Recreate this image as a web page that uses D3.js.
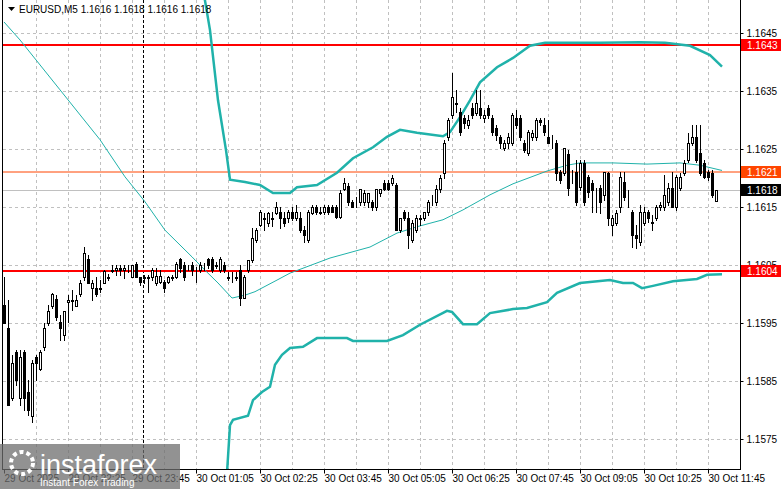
<!DOCTYPE html>
<html>
<head>
<meta charset="utf-8">
<script src="https://cdn.jsdelivr.net/npm/d3@7"></script>
<style>
  body { margin: 0; background: #fff; }
  svg text { font-family: "Liberation Sans", Arial, sans-serif; }
</style>
</head>
<body>
<svg id="chart" width="781" height="489"></svg>
<script>
// EURUSD M5 bars, 29 Oct 21:05 .. 30 Oct 11:55
var openP = [1.15981,1.15941,1.15821,1.15900,1.15821,1.15900,1.15831,1.15790,1.15891,1.15871,
1.15909,1.15950,1.15979,1.15991,1.15952,1.15929,1.15986,1.15990,1.15979,1.16000,
1.16029,1.16060,1.16010,1.16010,1.16009,1.16019,1.16029,1.16041,1.16041,1.16045,
1.16041,1.16045,1.16029,1.16052,1.16029,1.16029,1.16029,1.16029,1.16019,1.16021,
1.16021,1.16021,1.16028,1.16029,1.16060,1.16050,1.16045,1.16050,1.16040,1.16041,
1.16047,1.16060,1.16060,1.16050,1.16041,1.16050,1.16029,1.16028,1.16029,1.16041,
1.15993,1.16041,1.16059,1.16093,1.16119,1.16131,1.16122,1.16131,1.16140,1.16141,
1.16131,1.16131,1.16141,1.16131,1.16131,1.16110,1.16093,1.16140,1.16150,1.16141,
1.16141,1.16150,1.16150,1.16150,1.16133,1.16181,1.16186,1.16159,1.16159,1.16159,
1.16159,1.16159,1.16159,1.16150,1.16174,1.16191,1.16191,1.16191,1.16188,1.16110,
1.16141,1.16131,1.16093,1.16110,1.16131,1.16131,1.16141,1.16159,1.16159,1.16181,
1.16209,1.16271,1.16309,1.16329,1.16314,1.16303,1.16291,1.16321,1.16312,1.16321,
1.16303,1.16321,1.16303,1.16286,1.16271,1.16252,1.16260,1.16260,1.16303,1.16303,
1.16260,1.16243,1.16271,1.16271,1.16300,1.16291,1.16271,1.16271,1.16260,1.16210,
1.16209,1.16241,1.16202,1.16210,1.16185,1.16226,1.16202,1.16191,1.16171,1.16183,
1.16171,1.16209,1.16119,1.16122,1.16150,1.16193,1.16171,1.16141,1.16102,1.16090,
1.16122,1.16141,1.16124,1.16131,1.16150,1.16150,1.16159,1.16183,1.16150,1.16183,
1.16209,1.16231,1.16260,1.16271,1.16243,1.16226,1.16210,1.16209,1.16160];
var highP = [1.16029,1.15990,1.15895,1.15903,1.15903,1.15903,1.15852,1.15886,1.15895,1.15903,
1.15950,1.15981,1.16002,1.15998,1.15964,1.15971,1.15998,1.16007,1.15998,1.16024,
1.16081,1.16067,1.16024,1.16029,1.16024,1.16041,1.16034,1.16050,1.16050,1.16050,
1.16050,1.16050,1.16050,1.16055,1.16029,1.16033,1.16033,1.16045,1.16045,1.16041,
1.16024,1.16031,1.16033,1.16055,1.16062,1.16055,1.16050,1.16055,1.16047,1.16055,
1.16053,1.16062,1.16064,1.16055,1.16064,1.16055,1.16038,1.16038,1.16038,1.16050,
1.16033,1.16055,1.16114,1.16114,1.16145,1.16140,1.16141,1.16141,1.16159,1.16150,
1.16141,1.16145,1.16150,1.16153,1.16141,1.16117,1.16145,1.16153,1.16153,1.16150,
1.16153,1.16153,1.16153,1.16153,1.16179,1.16200,1.16191,1.16162,1.16167,1.16181,
1.16179,1.16174,1.16162,1.16181,1.16181,1.16197,1.16197,1.16205,1.16191,1.16131,
1.16145,1.16141,1.16128,1.16136,1.16136,1.16141,1.16162,1.16171,1.16188,1.16205,
1.16266,1.16304,1.16381,1.16352,1.16321,1.16309,1.16309,1.16329,1.16352,1.16352,
1.16317,1.16326,1.16309,1.16291,1.16274,1.16266,1.16278,1.16312,1.16317,1.16309,
1.16266,1.16283,1.16283,1.16303,1.16303,1.16303,1.16300,1.16274,1.16266,1.16214,
1.16252,1.16248,1.16214,1.16231,1.16231,1.16231,1.16205,1.16197,1.16183,1.16188,
1.16210,1.16210,1.16136,1.16145,1.16210,1.16210,1.16179,1.16145,1.16119,1.16153,
1.16150,1.16145,1.16136,1.16153,1.16159,1.16205,1.16191,1.16210,1.16205,1.16209,
1.16231,1.16278,1.16291,1.16291,1.16291,1.16231,1.16214,1.16214,1.16180];
var lowP = [1.15950,1.15809,1.15817,1.15843,1.15809,1.15800,1.15791,1.15779,1.15852,1.15869,
1.15903,1.15947,1.15976,1.15955,1.15921,1.15921,1.15952,1.15972,1.15979,1.15997,
1.16024,1.16019,1.15990,1.15997,1.16003,1.16019,1.16024,1.16038,1.16033,1.16033,
1.16028,1.16038,1.16029,1.16029,1.16016,1.16019,1.16003,1.16024,1.16016,1.16019,
1.16003,1.16019,1.16024,1.16028,1.16038,1.16024,1.16041,1.16033,1.16021,1.16038,
1.16041,1.16045,1.16038,1.16045,1.16038,1.16038,1.16024,1.16021,1.16024,1.15981,
1.15993,1.16038,1.16055,1.16090,1.16117,1.16110,1.16117,1.16117,1.16138,1.16114,
1.16117,1.16124,1.16128,1.16128,1.16107,1.16090,1.16090,1.16138,1.16138,1.16138,
1.16138,1.16138,1.16141,1.16131,1.16131,1.16179,1.16153,1.16150,1.16150,1.16153,
1.16153,1.16150,1.16145,1.16145,1.16169,1.16179,1.16179,1.16188,1.16110,1.16107,
1.16128,1.16079,1.16090,1.16107,1.16119,1.16128,1.16136,1.16153,1.16153,1.16176,
1.16200,1.16266,1.16304,1.16314,1.16274,1.16286,1.16286,1.16303,1.16309,1.16303,
1.16297,1.16303,1.16274,1.16266,1.16252,1.16248,1.16252,1.16257,1.16286,1.16266,
1.16245,1.16240,1.16266,1.16266,1.16291,1.16274,1.16260,1.16252,1.16197,1.16191,
1.16205,1.16171,1.16191,1.16153,1.16179,1.16153,1.16167,1.16141,1.16141,1.16140,
1.16162,1.16119,1.16102,1.16119,1.16141,1.16162,1.16150,1.16081,1.16079,1.16084,
1.16119,1.16124,1.16110,1.16128,1.16145,1.16145,1.16153,1.16150,1.16145,1.16179,
1.16205,1.16228,1.16257,1.16228,1.16205,1.16200,1.16197,1.16167,1.16160];
var closeP = [1.15950,1.15809,1.15881,1.15852,1.15891,1.15821,1.15800,1.15881,1.15881,1.15900,
1.15941,1.15971,1.16000,1.15960,1.15941,1.15971,1.15990,1.15988,1.15990,1.16019,
1.16071,1.16019,1.16019,1.16000,1.16010,1.16040,1.16028,1.16040,1.16045,1.16041,
1.16045,1.16044,1.16050,1.16029,1.16021,1.16028,1.16028,1.16041,1.16031,1.16031,
1.16010,1.16029,1.16029,1.16052,1.16045,1.16029,1.16044,1.16041,1.16039,1.16050,
1.16046,1.16050,1.16041,1.16049,1.16060,1.16041,1.16028,1.16027,1.16028,1.15993,
1.16029,1.16059,1.16097,1.16110,1.16141,1.16130,1.16140,1.16130,1.16150,1.16131,
1.16122,1.16141,1.16131,1.16141,1.16110,1.16102,1.16141,1.16150,1.16141,1.16140,
1.16150,1.16141,1.16141,1.16133,1.16174,1.16191,1.16159,1.16150,1.16158,1.16181,
1.16174,1.16174,1.16150,1.16181,1.16181,1.16181,1.16181,1.16200,1.16110,1.16131,
1.16131,1.16102,1.16122,1.16131,1.16130,1.16141,1.16159,1.16158,1.16181,1.16200,
1.16260,1.16300,1.16340,1.16328,1.16279,1.16295,1.16300,1.16309,1.16329,1.16309,
1.16309,1.16309,1.16279,1.16274,1.16260,1.16260,1.16271,1.16309,1.16291,1.16271,
1.16248,1.16279,1.16278,1.16300,1.16297,1.16279,1.16260,1.16270,1.16209,1.16197,
1.16252,1.16183,1.16201,1.16159,1.16226,1.16159,1.16176,1.16179,1.16170,1.16159,
1.16210,1.16131,1.16131,1.16140,1.16202,1.16167,1.16170,1.16102,1.16097,1.16141,
1.16141,1.16131,1.16122,1.16150,1.16153,1.16171,1.16183,1.16150,1.16202,1.16202,
1.16226,1.16260,1.16271,1.16231,1.16209,1.16202,1.16202,1.16171,1.16180];

// indicator lines: [bar index, price]
var upperBand = [[50,1.16516],[51.5,1.16455],[53.5,1.16334],[55.5,1.16248],[56.5,1.16197],[60.25,1.16193],
[64,1.16188],[67.25,1.16174],[71.5,1.16174],[73.25,1.16184],[78.25,1.16188],[83.25,1.16209],[87.25,1.16234],
[92.25,1.16253],[95.75,1.16271],[99,1.16283],[103.25,1.16278],[109.75,1.16272],[111.5,1.16279],[114,1.16305],
[116.5,1.16334],[119,1.16365],[123.25,1.16391],[127.25,1.16407],[131.5,1.16428],[135.25,1.16433],[149,1.16433],
[159,1.16434],[165.25,1.16433],[171.5,1.16428],[176.5,1.16412],[179.5,1.16392]];
var lowerBand = [[55.5,1.15664],[56.5,1.15774],[57.25,1.15783],[61,1.15790],[62.25,1.15817],[64.5,1.15831],
[66.5,1.15840],[67.75,1.15878],[69.5,1.15895],[71.5,1.15907],[74.75,1.15909],[78.25,1.15924],[85.75,1.15924],
[87.25,1.15919],[95.75,1.15919],[99.75,1.15929],[104,1.15947],[110.75,1.15971],[112,1.15969],[114.75,1.15948],
[118.25,1.15948],[121.5,1.15967],[127.25,1.15974],[130.75,1.15976],[135.75,1.15986],[138.25,1.16002],[144,1.16019],
[151.5,1.16024],[154.75,1.16019],[157.25,1.16019],[159.5,1.16010],[162.25,1.16014],[167.25,1.16022],[173.25,1.16026],
[175.75,1.16033],[179.5,1.16034]];
var movingAvg = [[0,1.16469],[4,1.16438],[14,1.16352],[24,1.16266],[30.25,1.16202],[35.25,1.16159],[40.25,1.16110],
[47,1.16064],[50.25,1.16041],[53.5,1.16019],[57,1.15993],[60.25,1.15998],[62.75,1.16004],[68.25,1.16024],
[71.5,1.16036],[81.5,1.16062],[91.5,1.16081],[98.25,1.16105],[103.25,1.16116],[109.75,1.16128],[114.75,1.16145],
[121.5,1.16171],[127.25,1.16190],[135.75,1.16212],[140.75,1.16222],[144,1.16226],[152.25,1.16226],[160.75,1.16224],
[169,1.16226],[174,1.16222],[179.5,1.16213]];

var priceTicks = [1.1645, 1.1635, 1.1625, 1.1615, 1.1605, 1.1595, 1.1585, 1.1575];
var timeTickBars = [0,16,32,48,64,80,96,112,128,144,160,176];
var timeTickLabels = ["29 Oct 2025","29 Oct 22:25","29 Oct 23:45","30 Oct 01:05","30 Oct 02:25","30 Oct 03:45",
  "30 Oct 05:05","30 Oct 06:25","30 Oct 07:45","30 Oct 09:05","30 Oct 10:25","30 Oct 11:45"];
var levels = [
  {price: 1.1643, color: "#ff0000", width: 2, label: "1.1643"},
  {price: 1.1621, color: "#ff4500", width: 1, label: "1.1621"},
  {price: 1.1604, color: "#ff0000", width: 2, label: "1.1604"}
];
var bidPrice = 1.1618;
var daySeparatorBar = 34.75;

var W = 781, H = 489, plotRight = 740, plotBottom = 469;
var svg = d3.select("#chart");
var x = d3.scaleLinear().domain([0, 1]).range([4, 8]);
var y = d3.scaleLinear().domain([1.1645, 1.1575]).range([33, 439]);
var band = "#20b2aa";

svg.append("clipPath").attr("id", "plot").append("rect")
  .attr("x", 3).attr("y", 0).attr("width", plotRight - 3).attr("height", plotBottom);
var g = svg.append("g").attr("clip-path", "url(#plot)");

// grid
g.selectAll(".hg").data(priceTicks).enter().append("line")
  .attr("x1", 3).attr("x2", plotRight)
  .attr("y1", function(d) { return Math.round(y(d)) + 0.5; }).attr("y2", function(d) { return Math.round(y(d)) + 0.5; })
  .attr("stroke", "#c0c0c0").attr("stroke-dasharray", "3,3");
g.selectAll(".vg").data(d3.range(8, 186, 8)).enter().append("line")
  .attr("x1", function(d) { return x(d) + 0.5; }).attr("x2", function(d) { return x(d) + 0.5; })
  .attr("y1", 0).attr("y2", plotBottom)
  .attr("stroke", "#c0c0c0").attr("stroke-dasharray", "3,3");

// day separator
g.append("line").attr("x1", x(daySeparatorBar) + 0.5).attr("x2", x(daySeparatorBar) + 0.5)
  .attr("y1", 0).attr("y2", plotBottom).attr("stroke", "#000").attr("stroke-dasharray", "3,2");

// levels
g.selectAll(".lv").data(levels).enter().append("line")
  .attr("x1", 3).attr("x2", plotRight)
  .attr("y1", function(d) { return Math.round(y(d.price)); }).attr("y2", function(d) { return Math.round(y(d.price)); })
  .attr("stroke", function(d) { return d.color; }).attr("stroke-width", function(d) { return d.width; });
g.append("line").attr("x1", 3).attr("x2", plotRight)
  .attr("y1", Math.round(y(bidPrice)) + 0.5).attr("y2", Math.round(y(bidPrice)) + 0.5).attr("stroke", "#c0c0c0");

// indicators
var line = d3.line().x(function(d) { return x(d[0]); }).y(function(d) { return y(d[1]); });
g.append("path").attr("d", line(movingAvg)).attr("fill", "none").attr("stroke", band).attr("stroke-width", 1);
g.append("path").attr("d", line(upperBand)).attr("fill", "none").attr("stroke", band).attr("stroke-width", 2.5);
g.append("path").attr("d", line(lowerBand)).attr("fill", "none").attr("stroke", band).attr("stroke-width", 2.5);

// candles
var bars = openP.map(function(o, i) {
  var c = closeP[i];
  return {i: i, o: o, c: c, h: Math.max(highP[i], o, c), l: Math.min(lowP[i], o, c)};
});
var cg = g.selectAll(".candle").data(bars).enter().append("g");
cg.append("line")
  .attr("x1", function(d) { return Math.round(x(d.i)) + 0.5; }).attr("x2", function(d) { return Math.round(x(d.i)) + 0.5; })
  .attr("y1", function(d) { return Math.round(y(d.h)); }).attr("y2", function(d) { return Math.round(y(d.l)) + 1; })
  .attr("stroke", "#000");
cg.append("rect")
  .attr("x", function(d) { return Math.round(x(d.i)) - 0.5; })
  .attr("y", function(d) { return Math.round(y(Math.max(d.o, d.c))) + 0.5; })
  .attr("width", 2)
  .attr("height", function(d) { return Math.max(0, Math.round(y(Math.min(d.o, d.c))) - Math.round(y(Math.max(d.o, d.c)))); })
  .attr("fill", function(d) { return d.c >= d.o ? "#fff" : "#000"; })
  .attr("stroke", "#000");

// frame
svg.append("line").attr("x1", 2.5).attr("x2", 2.5).attr("y1", 0).attr("y2", plotBottom).attr("stroke", "#000");
svg.append("line").attr("x1", 2).attr("x2", plotRight + 1).attr("y1", plotBottom + 0.5).attr("y2", plotBottom + 0.5).attr("stroke", "#000");

// price axis
var yAxis = d3.axisRight(y).tickValues(priceTicks).tickSize(3).tickSizeOuter(0).tickFormat(d3.format(".4f"));
var ya = svg.append("g").attr("transform", "translate(" + (plotRight + 0.5) + ",0)").call(yAxis);
ya.select(".domain").attr("d", "M0,0V" + plotBottom);
ya.selectAll("text").attr("x", 6).style("font-size", "10px").attr("fill", "#000");

// level tags
var tags = levels.map(function(d) { return {price: d.price, fill: d.color, text: d.label}; })
  .concat([{price: bidPrice, fill: "#000", text: d3.format(".4f")(bidPrice)}]);
var tg = svg.selectAll(".tag").data(tags).enter().append("g")
  .attr("transform", function(d) { return "translate(" + (plotRight + 1) + "," + Math.round(y(d.price)) + ")"; });
tg.append("rect").attr("x", 0).attr("y", -6).attr("width", W - plotRight - 1).attr("height", 12)
  .attr("fill", function(d) { return d.fill; });
tg.append("text").attr("x", 6).attr("y", 4).attr("fill", "#fff").style("font-size", "10px").text(function(d) { return d.text; });

// time axis
var xAxis = d3.axisBottom(x).tickValues(timeTickBars).tickSize(4)
  .tickFormat(function(d, i) { return timeTickLabels[i]; });
var xa = svg.append("g").attr("transform", "translate(0," + (plotBottom + 0.5) + ")").call(xAxis);
xa.select(".domain").remove();
xa.selectAll("text").attr("text-anchor", "start").attr("x", 0).attr("y", 5).style("font-size", "10px").attr("fill", "#000");

// header
svg.append("path").attr("d", "M8,7 L15,7 L11.5,11 Z").attr("fill", "#000");
svg.append("text").attr("x", 19).attr("y", 13).style("font-size", "10px")
  .text("EURUSD,M5  " + [openP[178], highP[178], lowP[178], closeP[178]].map(d3.format(".4f")).join(" "));

// watermark
var wm = svg.append("g");
wm.append("rect").attr("x", 0).attr("y", 444).attr("width", 180).attr("height", 45).attr("fill", "#6e6e6e").attr("opacity", 0.75);
wm.append("circle").attr("cx", 22).attr("cy", 463).attr("r", 11).attr("fill", "none").attr("stroke", "#fff").attr("stroke-width", 4).attr("stroke-dasharray", "4,3");
wm.append("text").attr("x", 40).attr("y", 474).attr("fill", "#fff").style("font-size", "27px").text("instaforex");
wm.append("text").attr("x", 40).attr("y", 486).attr("fill", "#fff").style("font-size", "10px").text("Instant Forex Trading");
</script>
</body>
</html>
